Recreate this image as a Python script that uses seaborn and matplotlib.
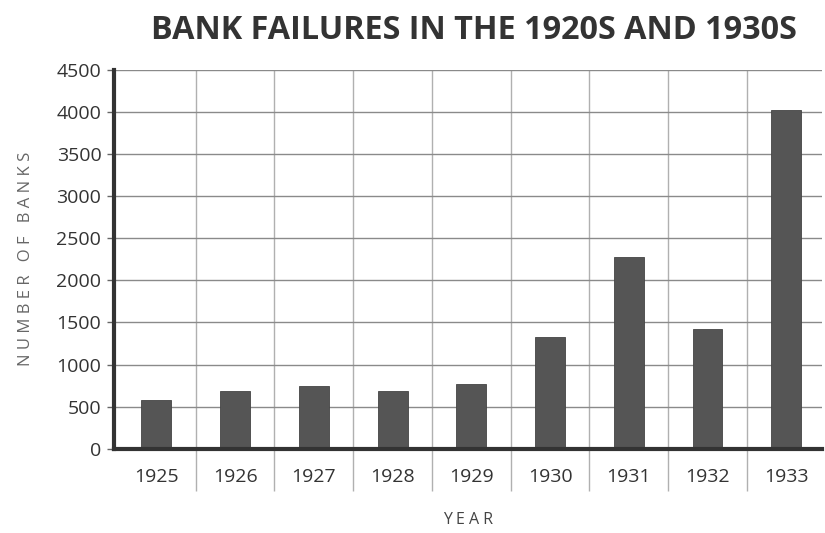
import numpy as np
import pandas as pd
import matplotlib
matplotlib.use("Agg")
import matplotlib.pyplot as plt
from matplotlib.ticker import FixedLocator
import seaborn as sns

years = ["1925", "1926", "1927", "1928", "1929", "1930", "1931", "1932", "1933"]
failures = [575, 685, 740, 685, 765, 1325, 2275, 1420, 4025]
y_ticks = [0, 500, 1000, 1500, 2000, 2500, 3000, 3500, 4000, 4500]

title = "BANK FAILURES IN THE 1920S AND 1930S"
y_label = "N U M B E R   O F   B A N K S"
x_label = "Y E A R"

sns.set_theme(style="white")
plt.rcParams["font.family"] = ["Open Sans", "DejaVu Sans"]

df = pd.DataFrame({"year": years, "banks": failures})

fig = plt.figure(figsize=(8.25, 5.33), dpi=100)
ax = fig.add_axes([0.138, 0.158, 0.858, 0.711])

sns.barplot(data=df, x="year", y="banks", color="#555555", width=0.38,
            edgecolor="#444444", linewidth=0.6, saturation=1, ax=ax, zorder=3)

ax.set_ylim(0, 4500)
ax.set_xlim(-0.54, len(years) - 0.55)
ax.set_yticks(y_ticks)
ax.set_yticklabels([str(v) for v in y_ticks])

# horizontal grid
ax.yaxis.grid(True, color="#8a8a8a", linewidth=1.0, zorder=0)
# vertical grid at category boundaries, extending below axis via minor ticks
ax.xaxis.set_minor_locator(FixedLocator(np.arange(1, len(years)) - 0.5))
ax.xaxis.grid(True, which="minor", color="#b0b0b0", linewidth=1.0, zorder=0)
ax.xaxis.grid(False, which="major")
ax.tick_params(axis="x", which="minor", bottom=True, length=30, width=1.0,
               color="#b0b0b0", direction="out")
ax.tick_params(axis="x", which="major", bottom=False, length=0, pad=14,
               labelsize=14, labelcolor="#333333")
ax.tick_params(axis="y", which="major", length=5, width=1.0, color="#666666",
               pad=4, labelsize=14, labelcolor="#333333", left=True)

for s in ["top", "right"]:
    ax.spines[s].set_visible(False)
ax.spines["left"].set_color("#333333")
ax.spines["left"].set_linewidth(3)
ax.spines["bottom"].set_color("#333333")
ax.spines["bottom"].set_linewidth(3)
ax.spines["bottom"].set_zorder(4)

ax.set_xlabel(x_label, fontsize=11.5, color="#444444", labelpad=12)
ax.set_ylabel(y_label, fontsize=12, color="#666666", labelpad=16)

fig.text(0.574, 0.943, title, ha="center", va="center", fontsize=23.3,
         fontweight="bold", color="#333333",
         family=["Open Sans", "DejaVu Sans"])

fig.savefig("out.png", dpi=100, facecolor="white")
